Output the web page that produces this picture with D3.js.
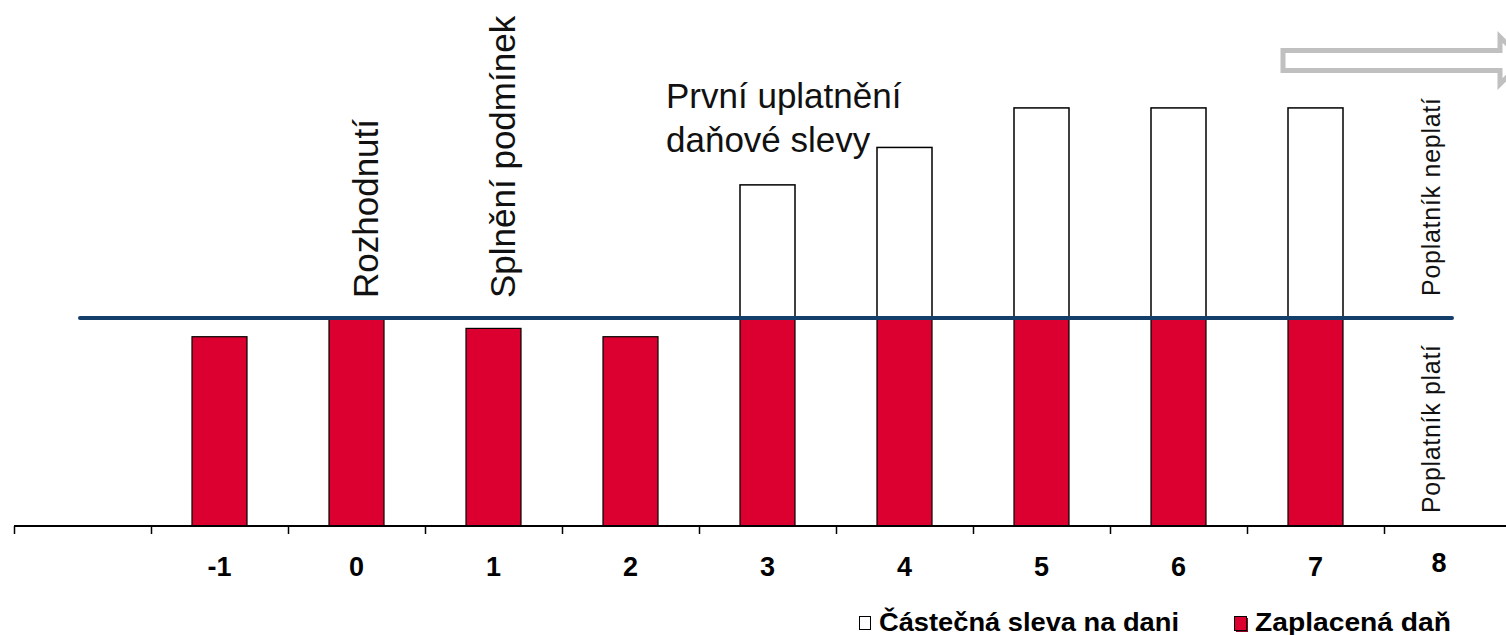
<!DOCTYPE html>
<html><head><meta charset="utf-8">
<script src="https://cdn.jsdelivr.net/npm/d3@7"></script>
<style>body{margin:0;background:#fff}svg{display:block;font-family:"Liberation Sans",Arial,sans-serif}</style>
</head><body>
<svg id="c" width="1506" height="635"></svg>
<script>
const categories = ["", "-1", "0", "1", "2", "3", "4", "5", "6", "7", "8"];
const paidTax = [null, 91, 100, 95, 91, 100, 100, 100, 100, 100, null];
const partialRelief = [null, 0, 0, 0, 0, 64, 82, 101, 101, 101, null];
const thresholdValue = 100;
const eventLabels = [
  {cat: "0", text: "Rozhodnutí"},
  {cat: "1", text: "Splnění podmínek"}
];
const firstUseLines = ["První uplatnění", "daňové slevy"];
const sideLabels = ["Poplatník neplatí", "Poplatník platí"];
const legendItems = ["Částečná sleva na dani", "Zaplacená daň"];

const svg = d3.select("#c");
const xb = d3.scaleBand().domain(categories).range([14, 14 + 137 * 11]);
const y = d3.scaleLinear().domain([0, 100]).range([526, 318]);
const red = "#DC0030";
const bw = 55;
const cxOf = c => xb(c) + xb.bandwidth() / 2;

// bars
categories.forEach((c, i) => {
  if (paidTax[i] == null) return;
  const cx = cxOf(c);
  svg.append("rect").attr("x", cx - bw / 2).attr("y", y(paidTax[i])).attr("width", bw)
    .attr("height", y(0) - y(paidTax[i])).attr("fill", red).attr("stroke", "#000").attr("stroke-width", 1.2);
  if (partialRelief[i] > 0) {
    const top = paidTax[i] + partialRelief[i];
    svg.append("rect").attr("x", cx - bw / 2).attr("y", y(top)).attr("width", bw)
      .attr("height", y(paidTax[i]) - y(top)).attr("fill", "#fff").attr("stroke", "#000").attr("stroke-width", 1.5);
  }
});

// threshold line
svg.append("line").attr("x1", 80).attr("x2", 1452).attr("y1", y(thresholdValue)).attr("y2", y(thresholdValue))
  .attr("stroke", "#153f6b").attr("stroke-width", 4).attr("stroke-linecap", "round");

// axis
svg.append("line").attr("x1", 14).attr("x2", 1506).attr("y1", 526).attr("y2", 526).attr("stroke", "#000").attr("stroke-width", 2);
categories.forEach(c => {
  const tx = Math.round(xb(c)) + 0.5;
  svg.append("line").attr("x1", tx).attr("x2", tx).attr("y1", 526).attr("y2", 534).attr("stroke", "#000").attr("stroke-width", 1.5);
});
categories.forEach((c, i) => {
  if (!c) return;
  let cx = cxOf(c), yy = 576;
  if (cx > 1440) { cx = 1439; yy = 572; }
  svg.append("text").attr("x", cx).attr("y", yy).attr("text-anchor", "middle")
    .attr("font-size", 27).attr("font-weight", "bold").text(c);
});

// event labels (rotated)
eventLabels.forEach(e => {
  const cx = cxOf(e.cat) + 21;
  svg.append("text").attr("transform", `translate(${cx},298) rotate(-90)`)
    .attr("font-size", 35).attr("fill", "#111").text(e.text);
});
const t3 = svg.append("text").attr("font-size", 35).attr("fill", "#111");
t3.append("tspan").attr("x", 666).attr("y", 108).text(firstUseLines[0]);
t3.append("tspan").attr("x", 666).attr("y", 152).text(firstUseLines[1]);

// side labels
svg.append("text").attr("transform", "translate(1440,296) rotate(-90)").attr("font-size", 25)
  .attr("textLength", 198).attr("lengthAdjust", "spacing").attr("fill", "#111").text(sideLabels[0]);
svg.append("text").attr("transform", "translate(1440,513) rotate(-90)").attr("font-size", 25)
  .attr("textLength", 168).attr("lengthAdjust", "spacing").attr("fill", "#111").text(sideLabels[1]);

// arrow
const ah = d3.path();
ah.moveTo(1283, 50.5); ah.lineTo(1500, 50.5); ah.lineTo(1500, 37); ah.lineTo(1524, 60.5);
ah.lineTo(1500, 84); ah.lineTo(1500, 70.5); ah.lineTo(1283, 70.5); ah.closePath();
svg.append("path").attr("d", ah.toString()).attr("fill", "#fff").attr("stroke", "#c0c0c0").attr("stroke-width", 5);

// legend
svg.append("rect").attr("x", 859.5).attr("y", 616.5).attr("width", 11).attr("height", 13).attr("fill", "#fff").attr("stroke", "#000").attr("stroke-width", 1);
svg.append("text").attr("x", 879).attr("y", 631).attr("font-size", 25).attr("font-weight", "bold")
  .attr("textLength", 300).attr("lengthAdjust", "spacingAndGlyphs").text(legendItems[0]);
svg.append("rect").attr("x", 1236).attr("y", 618).attr("width", 12).attr("height", 14).attr("fill", "#8a0020");
svg.append("rect").attr("x", 1234.5).attr("y", 616.5).attr("width", 12).attr("height", 14).attr("fill", red).attr("stroke", "#000").attr("stroke-width", 1);
svg.append("text").attr("x", 1255).attr("y", 631).attr("font-size", 25).attr("font-weight", "bold")
  .attr("textLength", 196).attr("lengthAdjust", "spacingAndGlyphs").text(legendItems[1]);
</script>
</body></html>
